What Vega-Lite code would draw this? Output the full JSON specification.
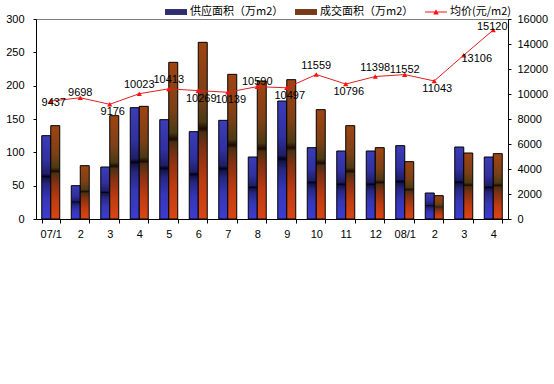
{
  "$schema": "https://vega.github.io/schema/vega-lite/v6.json",
  "width": 472,
  "height": 200,
  "autosize": {"type": "none"},
  "padding": {"left": 36, "top": 19, "right": 46, "bottom": 165},
  "background": "#ffffff",
  "config": {
    "view": {"fill": "#c0c0c0", "stroke": "#808080", "strokeWidth": 1},
    "font": "Liberation Sans",
    "axis": {
      "labelFont": "Liberation Sans", "labelFontSize": 11, "labelColor": "#000000",
      "domainColor": "#000000", "tickColor": "#000000", "grid": false, "title": null
    },
    "legend": {
      "labelFont": "Noto Sans CJK SC", "labelFontSize": 11, "labelColor": "#000000",
      "symbolSize": 484, "columnPadding": 11, "labelOffset": 3, "padding": 0,
      "symbolStrokeWidth": 0
    }
  },
  "datasets": {
    "main": [
      {"m": "07/1", "supply": 125, "trans": 140, "price": 9437},
      {"m": "07/2", "supply": 50, "trans": 80, "price": 9698},
      {"m": "07/3", "supply": 78, "trans": 155, "price": 9176},
      {"m": "07/4", "supply": 167, "trans": 169, "price": 10023},
      {"m": "07/5", "supply": 149, "trans": 235, "price": 10413},
      {"m": "07/6", "supply": 131, "trans": 265, "price": 10269},
      {"m": "07/7", "supply": 148, "trans": 217, "price": 10139},
      {"m": "07/8", "supply": 93, "trans": 207, "price": 10590},
      {"m": "07/9", "supply": 177, "trans": 209, "price": 10497},
      {"m": "07/10", "supply": 107, "trans": 164, "price": 11559},
      {"m": "07/11", "supply": 102, "trans": 140, "price": 10796},
      {"m": "07/12", "supply": 102, "trans": 107, "price": 11398},
      {"m": "08/1", "supply": 110, "trans": 86, "price": 11552},
      {"m": "08/2", "supply": 39, "trans": 35, "price": 11043},
      {"m": "08/3", "supply": 108, "trans": 99, "price": 13106},
      {"m": "08/4", "supply": 93, "trans": 98, "price": 15120}
    ],
    "legend": [
      {"s": "供应面积（万m2）"},
      {"s": "成交面积（万m2）"},
      {"s": "均价(元/m2)"}
    ]
  },
  "data": {"name": "main"},
  "layer": [
    {
      "encoding": {
        "x": {
          "field": "m", "type": "nominal", "sort": null,
          "scale": {"paddingInner": 0.39, "paddingOuter": 0.195},
          "axis": {
            "labelAngle": 0, "tickBand": "extent", "tickSize": 4, "labelPadding": 5,
            "labelExpr": "!isString(datum.value) ? '' : (slice(datum.value, 3) == '1' ? datum.value : slice(datum.value, 3))"
          }
        }
      },
      "layer": [
        {
          "transform": [{"fold": ["supply", "trans"], "as": ["k", "v"]}],
          "encoding": {
            "xOffset": {"field": "k", "type": "nominal", "scale": {"domain": ["supply", "trans"], "paddingInner": 0}},
            "y": {
              "field": "v", "type": "quantitative",
              "scale": {"domain": [0, 300], "nice": false},
              "axis": {"values": [0, 50, 100, 150, 200, 250, 300], "tickSize": 3, "labelPadding": 9}
            }
          },
          "layer": [
            {
              "transform": [{"filter": "datum.k == 'supply'"}],
              "mark": {
                "type": "bar", "stroke": "#000000", "strokeWidth": 1,
                "color": {
                  "gradient": "linear", "x1": 0, "y1": 1, "x2": 0, "y2": 0,
                  "stops": [
                    {"offset": 0, "color": "#3c3cd0"},
                    {"offset": 0.25, "color": "#3636b8"},
                    {"offset": 0.42, "color": "#262680"},
                    {"offset": 0.49, "color": "#14144a"},
                    {"offset": 0.51, "color": "#000018"},
                    {"offset": 0.54, "color": "#1e1e66"},
                    {"offset": 0.7, "color": "#3030a0"},
                    {"offset": 1, "color": "#3c3cb8"}
                  ]
                }
              },
              "encoding": {}
            },
            {
              "transform": [{"filter": "datum.k == 'trans'"}],
              "mark": {
                "type": "bar", "stroke": "#000000", "strokeWidth": 1,
                "color": {
                  "gradient": "linear", "x1": 0, "y1": 1, "x2": 0, "y2": 0,
                  "stops": [
                    {"offset": 0, "color": "#d84614"},
                    {"offset": 0.2, "color": "#c03c10"},
                    {"offset": 0.4, "color": "#803012"},
                    {"offset": 0.49, "color": "#4a3012"},
                    {"offset": 0.51, "color": "#200800"},
                    {"offset": 0.55, "color": "#4a3a14"},
                    {"offset": 0.7, "color": "#7c4016"},
                    {"offset": 1, "color": "#a04412"}
                  ]
                }
              },
              "encoding": {}
            }
          ]
        },
        {
          "encoding": {
            "y": {
              "field": "price", "type": "quantitative",
              "scale": {"domain": [0, 16000], "nice": false},
              "axis": {
                "orient": "right", "values": [0, 2000, 4000, 6000, 8000, 10000, 12000, 14000, 16000],
                "tickSize": 3, "labelPadding": 6, "format": "d"
              }
            }
          },
          "layer": [
            {"mark": {"type": "line", "color": "#e02020", "strokeWidth": 1}, "encoding": {}},
            {"mark": {"type": "point", "shape": "triangle-up", "filled": true, "color": "#ff1010", "size": 28, "opacity": 1}, "encoding": {}},
            {
              "transform": [{"filter": "indexof(['07/4','07/5','07/10','07/12'], datum.m) >= 0"}],
              "mark": {"type": "text", "font": "Liberation Sans", "fontSize": 11, "color": "#000000", "dy": -9, "baseline": "middle"},
              "encoding": {"text": {"field": "price", "type": "quantitative", "format": "d"}}
            },
            {
              "transform": [{"filter": "indexof(['07/2','07/8','08/1'], datum.m) >= 0"}],
              "mark": {"type": "text", "font": "Liberation Sans", "fontSize": 11, "color": "#000000", "dy": -5, "baseline": "middle"},
              "encoding": {"text": {"field": "price", "type": "quantitative", "format": "d"}}
            },
            {
              "transform": [{"filter": "datum.m == '08/4'"}],
              "mark": {"type": "text", "font": "Liberation Sans", "fontSize": 11, "color": "#000000", "dy": -3, "dx": -1, "baseline": "middle"},
              "encoding": {"text": {"field": "price", "type": "quantitative", "format": "d"}}
            },
            {
              "transform": [{"filter": "indexof(['07/3','07/6','07/7','07/9','07/11','08/2'], datum.m) >= 0"}],
              "mark": {"type": "text", "font": "Liberation Sans", "fontSize": 11, "color": "#000000", "dy": 8, "dx": 3, "baseline": "middle"},
              "encoding": {"text": {"field": "price", "type": "quantitative", "format": "d"}}
            },
            {
              "transform": [{"filter": "datum.m == '07/1'"}],
              "mark": {"type": "text", "font": "Liberation Sans", "fontSize": 11, "color": "#000000", "dy": 2, "dx": 3, "baseline": "middle"},
              "encoding": {"text": {"field": "price", "type": "quantitative", "format": "d"}}
            },
            {
              "transform": [{"filter": "datum.m == '08/3'"}],
              "mark": {"type": "text", "font": "Liberation Sans", "fontSize": 11, "color": "#000000", "dy": 4, "dx": 13, "baseline": "middle"},
              "encoding": {"text": {"field": "price", "type": "quantitative", "format": "d"}}
            }
          ]
        }
      ],
      "resolve": {"scale": {"y": "independent"}}
    },
    {
      "data": {"name": "legend"},
      "transform": [{"filter": "false"}],
      "mark": {"type": "point", "filled": true, "strokeWidth": 0, "size": 484},
      "encoding": {
        "color": {
          "field": "s", "type": "nominal", "sort": null,
          "scale": {"domain": ["供应面积（万m2）", "成交面积（万m2）", "均价(元/m2)"], "range": ["#2e2e6e", "#763a18", "#ff1010"]},
          "legend": {"title": null, "orient": "none", "direction": "horizontal", "columns": 3, "legendX": 129, "legendY": -18, "symbolSize": 484, "symbolStrokeWidth": 0, "symbolOpacity": 1}
        },
        "shape": {
          "field": "s", "type": "nominal", "sort": null,
          "scale": {"domain": ["供应面积（万m2）", "成交面积（万m2）", "均价(元/m2)"], "range": ["M-1,-0.27H1V0.27H-1Z", "M-1,-0.27H1V0.27H-1Z", "M-1,-0.045H1V0.045H-1ZM-0.25,0.22L0,-0.25L0.25,0.22Z"]},
          "legend": {"title": null, "orient": "none", "direction": "horizontal", "columns": 3, "legendX": 129, "legendY": -18, "symbolSize": 484, "symbolStrokeWidth": 0, "symbolOpacity": 1}
        }
      }
    }
  ]
}
